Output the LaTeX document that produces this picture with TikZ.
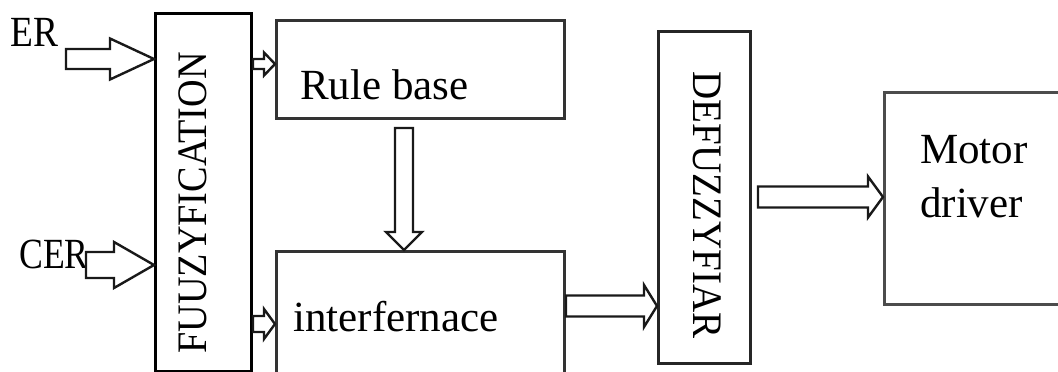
\documentclass[tikz,border=0pt]{standalone}
\usepackage{fontspec}
\setmainfont{Liberation Serif}
\usetikzlibrary{calc}

\tikzset{
  blk/.style={draw=#1, line width=3pt, inner sep=0pt, anchor=north west},
  blk/.default=black,
  lbl/.style={inner sep=0pt, font=\fontsize{43}{50}\selectfont},
  vlbl/.style={inner sep=0pt, font=\fontsize{42}{50}\selectfont},
  barrow/.style={draw=black!90, line width=2.4pt, fill=white, line join=miter},
}

% hollow block arrow pointing right: start, tip, shaft half width, head half width, head length
\newcommand\harrow[5]{%
  \draw[barrow] ($(#1)+(0,-#3)$) -- ($(#2)+(-#5,-#3)$) -- ($(#2)+(-#5,-#4)$) -- (#2)
    -- ($(#2)+(-#5,#4)$) -- ($(#2)+(-#5,#3)$) -- ($(#1)+(0,#3)$) -- cycle;}
% hollow block arrow pointing down
\newcommand\varrow[5]{%
  \draw[barrow] ($(#1)+(-#3,0)$) -- ($(#2)+(-#3,-#5)$) -- ($(#2)+(-#4,-#5)$) -- (#2)
    -- ($(#2)+(#4,-#5)$) -- ($(#2)+(#3,-#5)$) -- ($(#1)+(#3,0)$) -- cycle;}

\begin{document}
\begin{tikzpicture}[x=1pt,y=-1pt]
\useasboundingbox (0,0) rectangle (1058,372);
\clip (0,0) rectangle (1058,372);

% blocks
\node[blk, minimum width=96pt, minimum height=358pt] (fuzz) at (154,12) {};
\node[blk=black!80, minimum width=288pt, minimum height=98pt] (rule) at (275,19) {};
\node[blk=black!80, minimum width=288pt, minimum height=140pt] (inter) at (275,250) {};
\node[blk=black!85, minimum width=92pt, minimum height=332pt] (defuzz) at (657,30) {};
\node[blk=black!70, minimum width=200pt, minimum height=212pt] (motor) at (883,91) {};

% labels
\node[vlbl, rotate=90] (fuzzlbl) at (193,203) {\scalebox{0.91}[1]{FUUZYFICATION}};
\node[vlbl, rotate=-90] (defuzzlbl) at (707,205) {\scalebox{0.93}[1]{DEFUZZYFIAR}};
\node[lbl, anchor=base west] (rulelbl) at (300,99) {Rule base};
\node[lbl, anchor=base west] (interlbl) at (293,331) {interfernace};
\node[lbl, anchor=base west] (motorlbl) at (920,163) {Motor};
\node[lbl, anchor=base west] (driverlbl) at (920,217) {driver};
\node[lbl, anchor=base west] (er) at (10,46) {\scalebox{0.87}[1]{ER}};
\node[lbl, anchor=base west] (cer) at (19,268) {\scalebox{0.83}[1]{CER}};

% arrow end points
\coordinate (er0) at (66,59);
\coordinate (er1) at (fuzz.west |- er0);
\coordinate (cer0) at (86,265);
\coordinate (cer1) at (fuzz.west |- cer0);
\coordinate (fr0) at (fuzz.east |- 0,64);
\coordinate (fr1) at (rule.west |- 0,64);
\coordinate (fi0) at (fuzz.east |- 0,324);
\coordinate (fi1) at (inter.west |- 0,324);
\coordinate (ri0) at (404,128);
\coordinate (ri1) at (inter.north -| ri0);
\coordinate (id0) at (inter.east |- 0,306);
\coordinate (id1) at (defuzz.west |- 0,306);
\coordinate (dm0) at (758,197);
\coordinate (dm1) at (motor.west |- dm0);

% connectors
\harrow{er0}{er1}{10}{20.5}{44}
\harrow{cer0}{cer1}{13}{23}{40}
\harrow{fr0}{fr1}{5}{11.5}{11}
\harrow{fi0}{fi1}{8}{15}{11}
\varrow{ri0}{ri1}{9}{18}{18}
\harrow{id0}{id1}{10.5}{21}{13}
\harrow{dm0}{dm1}{10.5}{20.5}{15}
\end{tikzpicture}
\end{document}
